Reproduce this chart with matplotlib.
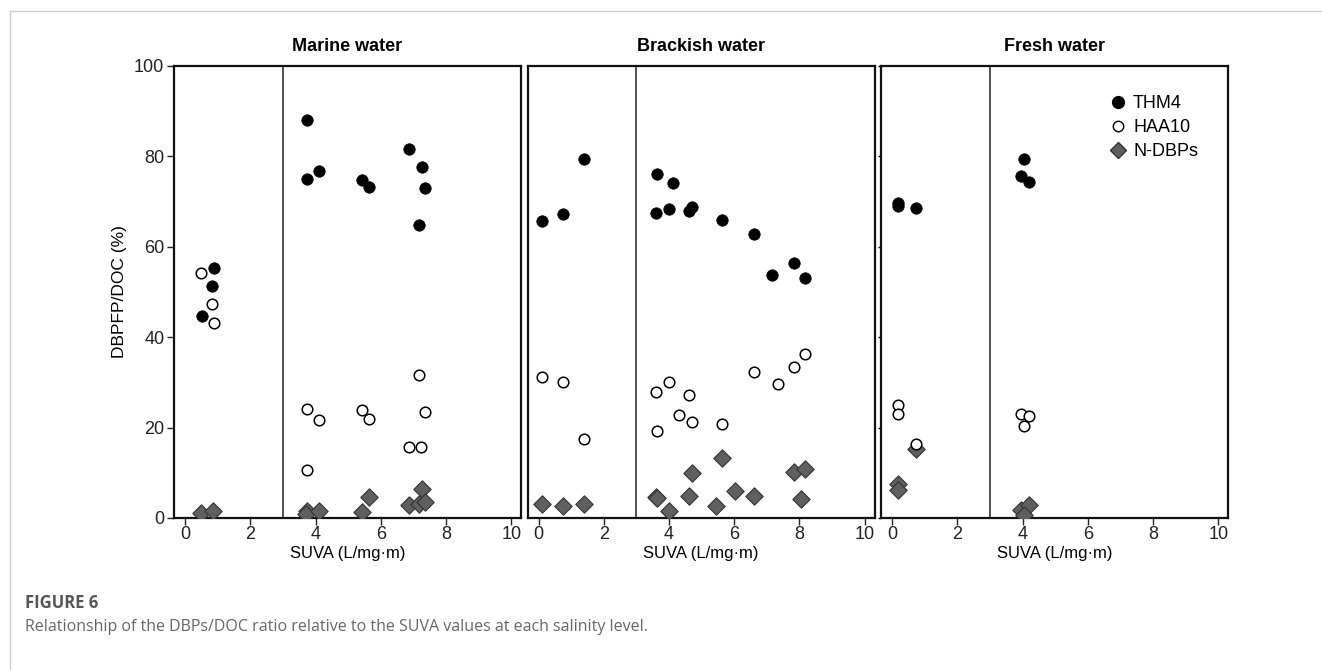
import matplotlib
matplotlib.use("Agg")
import matplotlib.pyplot as plt
from matplotlib.lines import Line2D

# ---- data ----
panels = ["Marine water", "Brackish water", "Fresh water"]

marine_thm4_x = [0.51, 0.83, 0.90, 3.74, 3.74, 4.12, 5.43, 5.64, 6.88, 7.25, 7.36, 7.16]
marine_thm4_y = [44.8, 51.3, 55.4, 88.0, 75.0, 76.7, 74.7, 73.3, 81.7, 77.7, 72.9, 64.9]
marine_haa_x = [0.49, 0.82, 0.90, 3.74, 3.74, 4.12, 5.43, 5.64, 6.88, 7.24, 7.16, 7.36]
marine_haa_y = [54.1, 47.3, 43.2, 24.2, 10.6, 21.6, 23.9, 21.9, 15.6, 15.8, 31.7, 23.4]
marine_ndbp_x = [0.49, 0.85, 3.74, 3.70, 4.12, 5.43, 5.64, 6.88, 7.16, 7.25, 7.36]
marine_ndbp_y = [1.1, 1.5, 1.5, 0.9, 1.6, 1.4, 4.7, 2.8, 3.2, 6.4, 3.6]

brackish_thm4_x = [0.10, 0.76, 1.40, 3.64, 4.11, 3.59, 3.99, 4.60, 4.71, 5.61, 6.60, 7.15, 7.84, 8.18]
brackish_thm4_y = [65.6, 67.3, 79.5, 76.2, 74.2, 67.5, 68.3, 68.0, 68.8, 66.0, 62.9, 53.8, 56.5, 53.1]
brackish_haa_x = [0.10, 0.76, 1.40, 3.59, 3.99, 3.64, 4.30, 4.60, 4.69, 5.61, 6.60, 7.34, 7.84, 8.18]
brackish_haa_y = [31.2, 30.0, 17.5, 27.9, 30.0, 19.3, 22.8, 27.2, 21.2, 20.7, 32.2, 29.7, 33.4, 36.2]
brackish_ndbp_x = [0.10, 0.76, 1.40, 3.59, 3.64, 3.99, 4.60, 4.69, 5.45, 5.61, 6.01, 6.60, 7.84, 8.18, 8.06]
brackish_ndbp_y = [3.2, 2.7, 3.0, 4.7, 4.5, 1.5, 4.9, 10.0, 2.7, 13.3, 6.0, 4.9, 10.2, 10.8, 4.3]

fresh_thm4_x = [0.17, 0.17, 0.74, 4.03, 3.94, 4.20]
fresh_thm4_y = [69.8, 69.0, 68.6, 79.4, 75.6, 74.4]
fresh_haa_x = [0.19, 0.19, 0.73, 3.94, 4.20, 4.03]
fresh_haa_y = [25.0, 23.0, 16.3, 23.0, 22.5, 20.3]
fresh_ndbp_x = [0.17, 0.17, 0.73, 3.94, 4.20, 4.03]
fresh_ndbp_y = [7.5, 6.1, 15.3, 1.7, 2.9, 0.7]

series = [
    (marine_thm4_x, marine_thm4_y, marine_haa_x, marine_haa_y, marine_ndbp_x, marine_ndbp_y),
    (brackish_thm4_x, brackish_thm4_y, brackish_haa_x, brackish_haa_y, brackish_ndbp_x, brackish_ndbp_y),
    (fresh_thm4_x, fresh_thm4_y, fresh_haa_x, fresh_haa_y, fresh_ndbp_x, fresh_ndbp_y),
]
xticks = [0, 2, 4, 6, 8, 10]
yticks = [0, 20, 40, 60, 80, 100]
split_x = 3

plt.rcParams['font.family'] = ['Liberation Sans', 'DejaVu Sans']

W, H = 1322, 670
fig = plt.figure(figsize=(W / 100, H / 100), dpi=100)

lefts = [174, 527.5, 881]
pw = 347
top, bottom = 66, 518

axes = []
for i, (name, data) in enumerate(zip(panels, series)):
    ax = fig.add_axes([lefts[i] / W, 1 - bottom / H, pw / W, (bottom - top) / H])
    axes.append(ax)
    tx, ty, hx, hy, nx, ny = data
    ax.axvline(split_x, color='#222222', lw=1.1, zorder=1)
    ax.scatter(nx, ny, marker='D', s=78, facecolor='#5f5f5f', edgecolor='#333333',
               linewidths=0.8, zorder=3, label='N-DBPs')
    ax.scatter(hx, hy, marker='o', s=58, facecolor='white', edgecolor='black',
               linewidths=1.1, zorder=4, label='HAA10')
    ax.scatter(tx, ty, marker='o', s=68, facecolor='black', edgecolor='black',
               linewidths=0.5, zorder=5, label='THM4')
    ax.set_xlim(-0.34, 10.3)
    ax.set_ylim(0, 100)
    ax.set_xticks(xticks)
    ax.set_yticks(yticks)
    for sp in ax.spines.values():
        sp.set_linewidth(1.6)
        sp.set_color('#111111')
    ax.tick_params(axis='x', direction='out', length=5, width=1, labelsize=13,
                   colors='#222222', pad=1)
    ax.set_title(name, fontsize=13, fontweight='bold', pad=11)
    ax.set_xlabel('SUVA (L/mg·m)', fontsize=12, labelpad=2)
    if i == 0:
        ax.tick_params(axis='y', direction='out', length=5, width=1, labelsize=13,
                       colors='#222222', pad=2)
        ax.set_ylabel('DBPFP/DOC (%)', fontsize=12.5, labelpad=5)
    elif i == 1:
        ax.tick_params(axis='y', length=0, labelleft=False)
    else:
        ax.tick_params(axis='y', direction='out', length=2, width=1, labelleft=False)

handles = [
    Line2D([], [], marker='o', ls='none', markersize=8.5, markerfacecolor='black',
           markeredgecolor='black', label='THM4'),
    Line2D([], [], marker='o', ls='none', markersize=7.5, markerfacecolor='white',
           markeredgecolor='black', label='HAA10'),
    Line2D([], [], marker='D', ls='none', markersize=8, markerfacecolor='#5f5f5f',
           markeredgecolor='#333333', label='N-DBPs'),
]
axes[2].legend(handles=handles, loc='upper left', bbox_to_anchor=(0.63, 0.952),
               frameon=False, fontsize=13, handletextpad=0.25, labelspacing=0.4,
               handlelength=1.2, borderaxespad=0)

# card border
fig.add_artist(Line2D([10 / W, 10 / W], [0, 1 - 11 / H], color='#cfcfcf', lw=1,
                      transform=fig.transFigure))
fig.add_artist(Line2D([10 / W, 1], [1 - 11 / H, 1 - 11 / H], color='#cfcfcf', lw=1,
                      transform=fig.transFigure))

fig.text(25 / W, 1 - 603 / H, 'FIGURE 6', fontsize=12, color='#555555',
         fontweight='bold', va='center', ha='left', family=['Open Sans', 'DejaVu Sans'])
fig.text(25 / W, 1 - 627 / H,
         'Relationship of the DBPs/DOC ratio relative to the SUVA values at each salinity level.',
         fontsize=11.5, color='#666666', va='center', ha='left',
         family=['Open Sans', 'DejaVu Sans'])

fig.savefig('out.png', dpi=100, facecolor='white')
